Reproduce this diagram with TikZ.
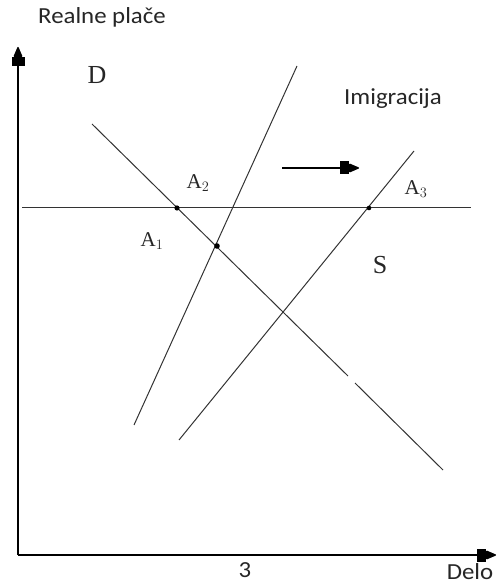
\documentclass[tikz,border=0pt]{standalone}
\usepackage{fontspec}
\setmainfont{Liberation Serif}
\newfontfamily\calfont[FakeStretch=1.08]{Carlito}
\usetikzlibrary{arrows.meta}

\begin{document}
\begin{tikzpicture}[x=1pt,y=1pt,font=\fontsize{26}{28}\selectfont]
\useasboundingbox (-18,-32) rectangle (478,555);
\tikzset{
  blocktip/.tip={Rectangle[length=9pt,width=13pt,sep=0pt]Triangle[length=11pt,width=9pt,round]},
  axisline/.style={line width=1.4pt,-{blocktip}},
  curve/.style={line width=1pt,black!80},
  sanslabel/.style={font=\calfont\fontsize{23}{25}\selectfont,text=black!85},
  ptlabel/.style={font=\fontsize{21}{23}\selectfont,text=black!85},
}
% axes
\coordinate (O) at (0,0);
\coordinate (ytop) at (0,508);
\coordinate (xend) at (478,0);
\draw[axisline] (O) -- (ytop);
\draw[axisline] (O) -- (xend);
% wage line
\coordinate (w1) at (4,347);
\coordinate (w2) at (453,347);
\draw[curve] (w1) -- (w2);
% demand, with a small break
\coordinate (d1) at (74,431);
\coordinate (d2) at (330,179);
\coordinate (d3) at (337,172);
\coordinate (d4) at (425,85);
\draw[curve] (d1) -- (d2);
\draw[curve] (d3) -- (d4);
% supply before and after
\coordinate (s1a) at (116,130);
\coordinate (s1b) at (279,489);
\coordinate (s2a) at (161,115);
\coordinate (s2b) at (396,404);
\draw[curve] (s1a) -- (s1b);
\draw[curve] (s2a) -- (s2b);
% points
\fill (159,347) circle (2.6);
\fill (199,309) circle (2.8);
\fill (351,347) circle (2.3);
% shift arrow
\coordinate (m1) at (264,387);
\coordinate (m2) at (341,387);
\draw[axisline] (m1) -- (m2);
% labels
\node[sanslabel] (yl) at (84,538) {Realne plače};
\node[ptlabel,font=\fontsize{26}{28}\selectfont] (dl) at (79,480) {D};
\node[sanslabel] (im) at (375,456) {Imigracija};
\node[ptlabel] (a2) at (180,372) {A$_2$};
\node[ptlabel] (a1) at (134,314) {A$_1$};
\node[ptlabel] (a3) at (398,366) {A$_3$};
\node[ptlabel,font=\fontsize{26}{28}\selectfont] (sl) at (362,290) {S};
\node[sanslabel] (tr) at (227,-15) {3};
\node[sanslabel] (xl) at (452,-17) {Delo};
\end{tikzpicture}
\end{document}
